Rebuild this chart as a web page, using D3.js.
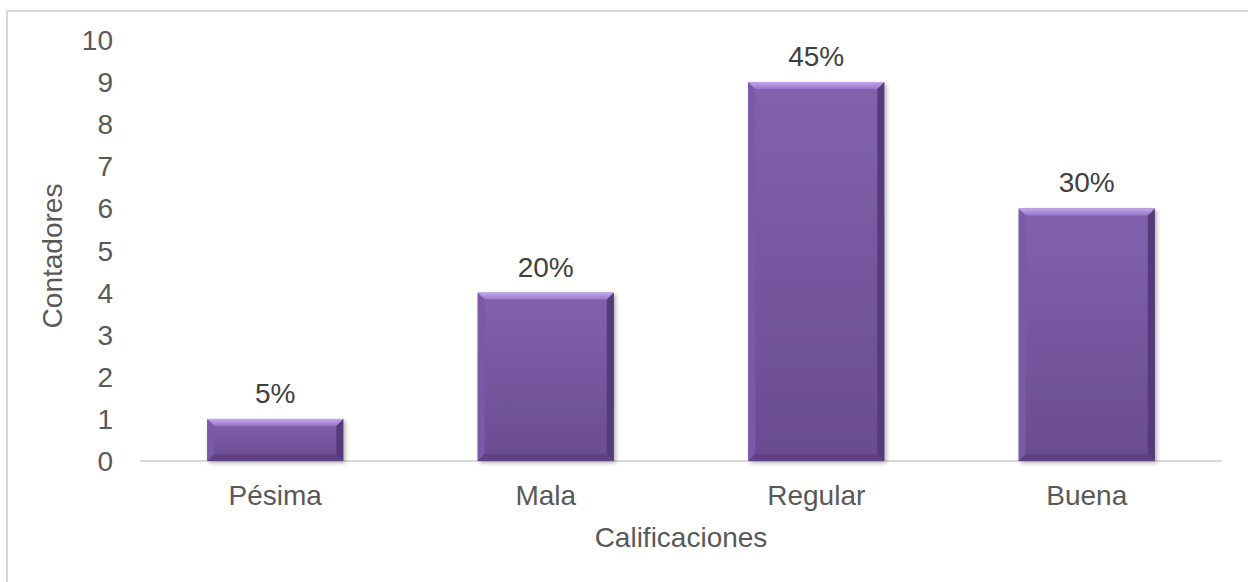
<!DOCTYPE html>
<html><head><meta charset="utf-8">
<script src="https://cdn.jsdelivr.net/npm/d3@7"></script>
<style>body{margin:0;background:#fff}svg{display:block}</style>
</head><body>
<script>
const categories = ["Pésima", "Mala", "Regular", "Buena"];
const values = [1, 4, 9, 6];
const labels = ["5%", "20%", "45%", "30%"];
const yTicks = [0,1,2,3,4,5,6,7,8,9,10];

const W = 1248, H = 582;
const svg = d3.select("body").append("svg").attr("width", W).attr("height", H);
const font = "Liberation Sans, Arial, sans-serif";
const txt = "#595959";
const fs = 28;

// outer border
svg.append("rect").attr("x", 7).attr("y", 11).attr("width", W + 10).attr("height", H + 10)
  .attr("fill", "none").attr("stroke", "#d9d9d9").attr("stroke-width", 2);

const pL = 140, pR = 1222, pT = 40, pB = 461;
const x = d3.scaleBand().domain(categories).range([pL, pR]).paddingInner(0.497).paddingOuter(0.2485);
const y = d3.scaleLinear().domain([0, 10]).range([pB, pT]);

const defs = svg.append("defs");
const g = defs.append("linearGradient").attr("id", "face").attr("x1", 0).attr("y1", 0).attr("x2", 0).attr("y2", 1);
g.append("stop").attr("offset", "0%").attr("stop-color", "#8262ad");
g.append("stop").attr("offset", "100%").attr("stop-color", "#6a4c90");
const gt = defs.append("linearGradient").attr("id", "topb").attr("x1", 0).attr("y1", 0).attr("x2", 0).attr("y2", 1);
gt.append("stop").attr("offset", "0%").attr("stop-color", "#c4a6ee");
gt.append("stop").attr("offset", "100%").attr("stop-color", "#9676c6");
const f = defs.append("filter").attr("id", "sh").attr("x", "-10%").attr("y", "-10%").attr("width", "130%").attr("height", "130%");
f.append("feGaussianBlur").attr("in", "SourceAlpha").attr("stdDeviation", 2);
f.append("feOffset").attr("dx", 2).attr("dy", 2).attr("result", "o");
f.append("feComponentTransfer").append("feFuncA").attr("type", "linear").attr("slope", 0.3);
const m = f.append("feMerge"); m.append("feMergeNode"); m.append("feMergeNode").attr("in", "SourceGraphic");

// axis line
svg.append("line").attr("x1", pL).attr("x2", pR).attr("y1", y(0)).attr("y2", y(0))
  .attr("stroke", "#d9d9d9").attr("stroke-width", 2);

// y tick labels
svg.selectAll(".yt").data(yTicks).enter().append("text")
  .attr("x", 113).attr("y", d => y(d)).attr("dy", "0.36em").attr("text-anchor", "end")
  .attr("font-family", font).attr("font-size", fs).attr("fill", txt).text(d => d);

const bw = x.bandwidth(), b = 7;
const bars = svg.selectAll(".bar").data(categories).enter().append("g").attr("filter", "url(#sh)");
bars.each(function(c, i) {
  const s = d3.select(this);
  const x0 = x(c), x1 = x0 + bw, y0 = y(values[i]), y1 = y(0);
  s.append("rect").attr("x", x0).attr("y", y0).attr("width", bw).attr("height", y1 - y0).attr("fill", "url(#face)");
  s.append("polygon").attr("points", [[x0,y0],[x0+b,y0+b],[x0+b,y1-b],[x0,y1]].join(" ")).attr("fill", "#7a5aa6");
  s.append("polygon").attr("points", [[x1,y0],[x1-b,y0+b],[x1-b,y1-b],[x1,y1]].join(" ")).attr("fill", "#553a7a");
  s.append("polygon").attr("points", [[x0,y1],[x0+b,y1-b],[x1-b,y1-b],[x1,y1]].join(" ")).attr("fill", "#5e4285");
  s.append("polygon").attr("points", [[x0,y0],[x1,y0],[x1-b,y0+b],[x0+b,y0+b]].join(" ")).attr("fill", "url(#topb)");
});

// value labels
svg.selectAll(".vl").data(categories).enter().append("text")
  .attr("x", d => x(d) + bw / 2).attr("y", (d, i) => y(values[i]) - 16)
  .attr("text-anchor", "middle").attr("font-family", font).attr("font-size", fs).attr("fill", "#404040")
  .text((d, i) => labels[i]);

// x category labels
svg.selectAll(".xl").data(categories).enter().append("text")
  .attr("x", d => x(d) + bw / 2).attr("y", 505)
  .attr("text-anchor", "middle").attr("font-family", font).attr("font-size", fs).attr("fill", txt).text(d => d);

// axis titles
svg.append("text").attr("x", 681).attr("y", 547).attr("text-anchor", "middle")
  .attr("font-family", font).attr("font-size", fs).attr("fill", txt).text("Calificaciones");
svg.append("text").attr("transform", "translate(62,256) rotate(-90)").attr("text-anchor", "middle")
  .attr("font-family", font).attr("font-size", fs).attr("fill", txt).text("Contadores");
</script>
</body></html>
